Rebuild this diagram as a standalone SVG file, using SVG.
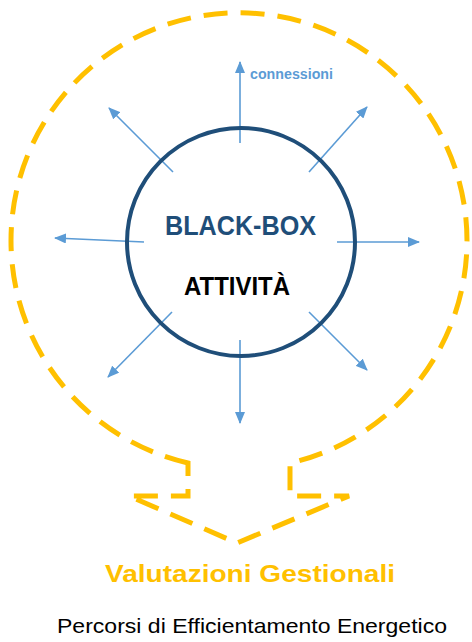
<svg xmlns="http://www.w3.org/2000/svg" width="472" height="642" viewBox="0 0 472 642">
<style>
.conn{stroke:#5B9BD5;stroke-width:1.6;fill:none;marker-end:url(#ah)}
.outer{stroke:#FFC000;stroke-width:5;fill:none;stroke-dasharray:24 13;stroke-linejoin:miter}
.t{font-family:"Liberation Sans",Arial,sans-serif;font-weight:bold}
</style>
<defs>
<marker id="ah" markerUnits="userSpaceOnUse" markerWidth="12" markerHeight="10" refX="11" refY="5" orient="auto">
<path d="M0,0 L12,5 L0,10 Z" fill="#5B9BD5"/>
</marker>
</defs>
<rect width="472" height="642" fill="#fff"/>
<g id="outline">
<path class="outer" d="M 188 463 A 228 228 0 1 1 290 463 L 290 496 L 349 496 L 237 543 L 129 496 L 188 496 Z"/>
</g>
<g id="connectors">
<line class="conn" x1="240" y1="143" x2="240" y2="62"/>
<line class="conn" x1="173" y1="172" x2="109" y2="108"/>
<line class="conn" x1="309" y1="172" x2="367" y2="107"/>
<line class="conn" x1="144" y1="242" x2="55" y2="238"/>
<line class="conn" x1="337" y1="242" x2="419" y2="242"/>
<line class="conn" x1="172" y1="312" x2="108" y2="377"/>
<line class="conn" x1="309" y1="312" x2="367" y2="370"/>
<line class="conn" x1="240" y1="340" x2="240" y2="423"/>
</g>
<g id="blackbox">
<circle cx="241" cy="242" r="114" fill="none" stroke="#1F4E79" stroke-width="4"/>
<text class="t" x="165" y="235" font-size="28" fill="#1F4E79" textLength="151" lengthAdjust="spacingAndGlyphs">BLACK-BOX</text>
<text class="t" x="184" y="295" font-size="25" fill="#000" textLength="106" lengthAdjust="spacingAndGlyphs">ATTIVITÀ</text>
</g>
<g id="label-connessioni">
<text class="t" x="250" y="79" font-size="14" fill="#5B9BD5" textLength="83" lengthAdjust="spacingAndGlyphs">connessioni</text>
</g>
<g id="titles">
<text class="t" x="105" y="582" font-size="24" fill="#FFC000" textLength="290" lengthAdjust="spacingAndGlyphs">Valutazioni Gestionali</text>
<text x="57" y="633" font-family="'Liberation Sans',Arial,sans-serif" font-size="21" fill="#000" textLength="390" lengthAdjust="spacingAndGlyphs">Percorsi di Efficientamento Energetico</text>
</g>
</svg>
